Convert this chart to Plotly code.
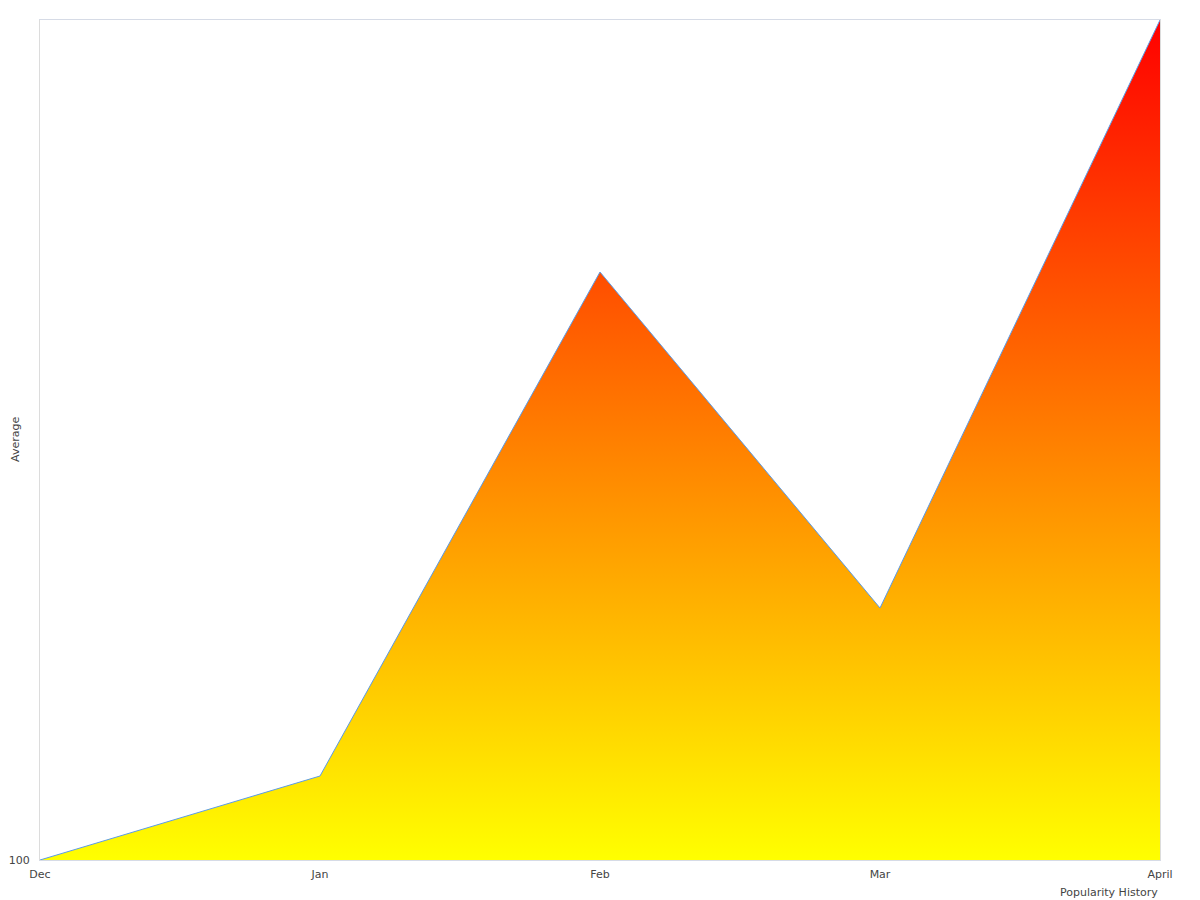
import plotly.graph_objects as go

# popularity history data
months = ["Dec", "Jan", "Feb", "Mar", "April"]
average = [100, 110, 170, 130, 200]

fig = go.Figure()
fig.add_trace(go.Scatter(
    x=months, y=average,
    mode="lines",
    line=dict(color="#5b9be6", width=1),
    fill="tozeroy",
    fillgradient=dict(type="vertical", start=100, stop=200,
                      colorscale=[[0, "#ffff00"], [1, "#ff0000"]]),
    hoverinfo="x+y",
    showlegend=False,
))

fig.update_layout(
    width=1200, height=900,
    margin=dict(l=32, r=48, t=12, b=48),
    plot_bgcolor="white", paper_bgcolor="white",
    font=dict(family="DejaVu Sans", size=11, color="#444"),
    annotations=[
        dict(text="Popularity History", xref="paper", yref="paper", x=1, y=0,
             xanchor="right", yanchor="top", yshift=-24, showarrow=False,
             font=dict(family="DejaVu Sans", size=11, color="#444")),
        dict(text="Average", xref="paper", yref="paper", x=0, y=0.5,
             xanchor="center", yanchor="middle", xshift=-25, textangle=-90,
             showarrow=False, font=dict(family="DejaVu Sans", size=11, color="#444")),
    ],
)
fig.update_xaxes(
    range=[0, 4], showgrid=False, zeroline=False, automargin=False,
    showline=True, linecolor="#d6dbe6", linewidth=1, mirror=True,
    ticks="", ticklabelstandoff=4,
)
fig.update_yaxes(
    range=[100, 200], tickvals=[100], showgrid=False, zeroline=False, automargin=False,
    showline=True, linecolor="#dcdcdc", linewidth=1, mirror=True,
    ticks="", ticklabelstandoff=7,
)

fig.write_html("out.html")
